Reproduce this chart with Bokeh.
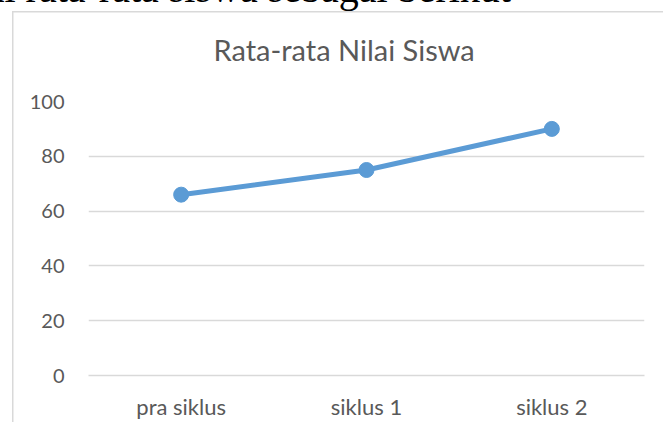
from bokeh.plotting import figure
from bokeh.models import Title, FixedTicker
from bokeh.embed import file_html
from bokeh.resources import INLINE

categories = ["pra siklus", "siklus 1", "siklus 2"]
values = [66, 75, 90]
y_ticks = [0, 20, 40, 60, 80, 100]
title_text = "Rata-rata Nilai Siswa"
doc_text = "nilai rata-rata siswa sebagai berikut"

GREY = "#595959"
GRID = "#d9d9d9"
BLUE = "#5b9bd5"
FONT = "Lato"

K = 46            # part of the canvas pushed above the page top
FL, FW, FH = 88, 556, 274
BORDER_X, BORDER_Y = 12, 10.5

p = figure(x_range=categories, y_range=(0, 100),
           frame_width=FW, frame_height=FH,
           output_backend="svg", toolbar_location=None,
           min_border_left=FL, min_border_right=663 - FL - FW,
           min_border_top=0, min_border_bottom=46,
           styles={
               "margin-top": f"-{K}px",
               "background-image": f"linear-gradient({GRID}, {GRID}), linear-gradient({GRID}, {GRID})",
               "background-size": "1.5px 100%, 100% 1.5px",
               "background-position": f"{BORDER_X}px {BORDER_Y + K}px, {BORDER_X}px {BORDER_Y + K}px",
               "background-repeat": "no-repeat",
           })
p.title = None
p.outline_line_color = None
p.border_fill_color = None
p.background_fill_color = None
p.x_range.range_padding = 0

p.line(categories, values, line_color=BLUE, line_width=5)
p.scatter(categories, values, size=15, fill_color=BLUE, line_color=BLUE)

p.yaxis.ticker = FixedTicker(ticks=y_ticks)
p.yaxis.axis_line_color = None
p.yaxis.major_tick_line_color = None
p.yaxis.minor_tick_line_color = None
p.yaxis.major_label_standoff = 18
p.yaxis.major_label_text_font = FONT
p.yaxis.major_label_text_font_size = "20px"
p.yaxis.major_label_text_color = GREY

p.xaxis.axis_line_color = GRID
p.xaxis.axis_line_width = 1.5
p.xaxis.major_tick_line_color = None
p.xaxis.minor_tick_line_color = None
p.xaxis.major_label_standoff = 11
p.xaxis.major_label_text_font = FONT
p.xaxis.major_label_text_font_size = "22px"
p.xaxis.major_label_text_color = GREY

p.xgrid.grid_line_color = None
p.ygrid.grid_line_color = GRID
p.ygrid.grid_line_width = 1.5

# stacked above the frame, inner to outer: spacer, chart title, document text
p.add_layout(Title(text=" ", text_font_size="10px", standoff=13), "above")
p.add_layout(Title(text=title_text, text_font=FONT, text_font_size="29px",
                   text_font_style="normal", text_color=GREY,
                   align="left", offset=125, standoff=18), "above")
p.add_layout(Title(text=doc_text, text_font="Liberation Serif",
                   text_font_size="40px", text_font_style="normal",
                   text_color="black", align="left", offset=-144,
                   standoff=19), "above")

open("out.html", "w").write(file_html(p, INLINE))
